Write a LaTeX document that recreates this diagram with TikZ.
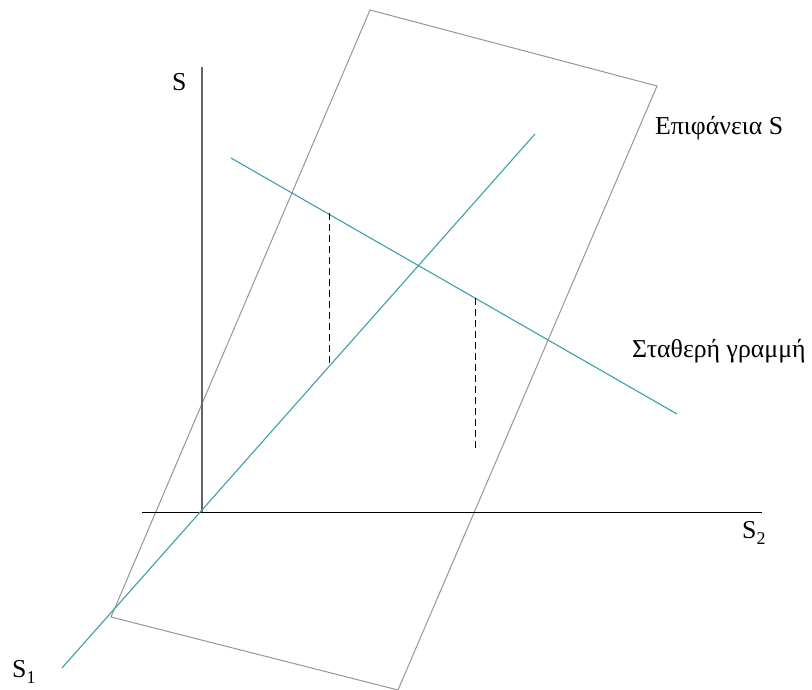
\documentclass[tikz,border=0pt]{standalone}
\usepackage{fontspec}
\setmainfont{Liberation Serif}
\newcommand{\lowsub}[1]{\raisebox{-6pt}{\fontsize{18}{20}\selectfont #1}}
\begin{document}
\begin{tikzpicture}[x=1pt,y=-1pt,
  plane/.style={draw={rgb,255:red,150;green,150;blue,150},line width=1pt,line join=miter},
  tealline/.style={draw={rgb,255:red,60;green,160;blue,170},line width=1.1pt},
  axis/.style={draw=black,line width=1pt},
  vaxis/.style={draw={rgb,255:red,100;green,100;blue,100},line width=1.2pt},
  dashline/.style={draw=black,line width=1pt,dash pattern=on 7pt off 4pt},
  lbl/.style={anchor=base west,inner sep=0pt,font=\fontsize{25.8}{30}\selectfont}]
\useasboundingbox (0,0) rectangle (812,690);
% parallelogram (surface)
\coordinate (p1) at (370,10);
\coordinate (p2) at (657,86);
\coordinate (p3) at (398,690);
\coordinate (p4) at (111,617);
\draw[plane] (p1) -- (p2) -- (p3) -- (p4) -- cycle;
% axes
\coordinate (o) at (202,512);
\coordinate (vtop) at (202,67);
\coordinate (hl) at (142,512);
\coordinate (hr) at (762,512);
\draw[vaxis] (o) -- (vtop);
\draw[axis] (hl) -- (hr);
% teal lines
\coordinate (a1) at (62,668);
\coordinate (a2) at (535,134);
\coordinate (b1) at (231,158);
\coordinate (b2) at (677,414);
\draw[tealline] (a1) -- (a2);
\draw[tealline] (b1) -- (b2);
% dashed drops
\coordinate (d1t) at (329,213);
\coordinate (d1b) at (329,366);
\coordinate (d2t) at (475,298);
\coordinate (d2b) at (475,451);
\draw[dashline] (d1t) -- (d1b);
\draw[dashline] (d2t) -- (d2b);
% labels
\node[lbl] (ls) at (172,91) {S};
\node[lbl] (lsurf) at (655,135) {Επιφάνεια S};
\node[lbl] (lline) at (632,357) {Σταθερή γραμμή};
\node[lbl] (ls2) at (742,538) {S\lowsub{2}};
\node[lbl] (ls1) at (12,677) {S\lowsub{1}};
\end{tikzpicture}
\end{document}
